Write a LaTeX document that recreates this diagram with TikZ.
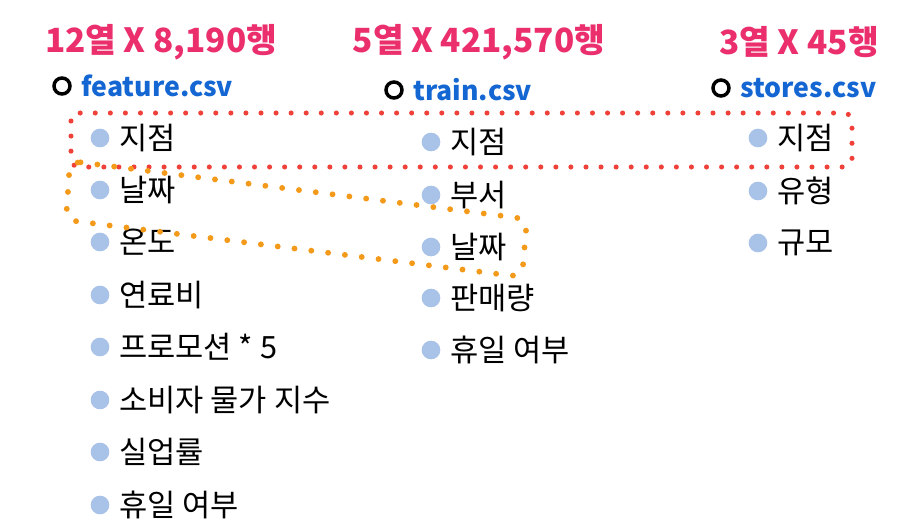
\documentclass[tikz,border=0pt]{standalone}
\usepackage{fontspec}
\setmainfont{Noto Sans CJK KR}
\definecolor{hdPink}{HTML}{EA2F6C}
\definecolor{fileBlue}{HTML}{1466D2}
\definecolor{bulBlue}{HTML}{A9C2E8}
\definecolor{keyRed}{HTML}{F0403A}
\definecolor{keyOrange}{HTML}{F39A1A}
\usetikzlibrary{positioning}

\begin{document}
\begin{tikzpicture}[x=0.75pt, y=-0.75pt, every node/.style={inner sep=0pt},
    head/.style={text=hdPink, font=\fontsize{25}{29}\selectfont\bfseries},
    file/.style={text=fileBlue, font=\fontsize{20}{24}\selectfont\bfseries},
    ring/.style={circle, draw=black, line width=2.6pt, minimum size=12pt},
    bul/.style={circle, fill=bulBlue, minimum size=14pt},
    item/.style={font=\fontsize{23}{27}\selectfont}]
        \useasboundingbox (0,0) rectangle (923,524);
        % Table sizes
        \node[head] (h1) at (161,42) {12열 X 8,190행};
        \node[head] (h2) at (479,42) {5열 X 421,570행};
        \node[head] (h3) at (799,42) {3열 X 45행};
        % File names
        \node[ring] (r1) at (62,86) {};
        \node[file, right=7pt of r1] (f1) {feature.csv};
        \node[ring] (r2) at (394,90) {};
        \node[file, right=7pt of r2] (f2) {train.csv};
        \node[ring] (r3) at (721,88) {};
        \node[file, right=7pt of r3] (f3) {stores.csv};
        % feature.csv columns
        \node[bul] (a1) at (100,138) {}; \node[item, right=7pt of a1] (ta1) {지점};
        \node[bul] (a2) at (100,190) {}; \node[item, right=7pt of a2] (ta2) {날짜};
        \node[bul] (a3) at (100,242) {}; \node[item, right=7pt of a3] (ta3) {온도};
        \node[bul] (a4) at (100,295) {}; \node[item, right=7pt of a4] (ta4) {연료비};
        \node[bul] (a5) at (100,347) {}; \node[item, right=7pt of a5] (ta5) {프로모션 * 5};
        \node[bul] (a6) at (100,400) {}; \node[item, right=7pt of a6] (ta6) {소비자 물가 지수};
        \node[bul] (a7) at (100,452) {}; \node[item, right=7pt of a7] (ta7) {실업률};
        \node[bul] (a8) at (100,505) {}; \node[item, right=7pt of a8] (ta8) {휴일 여부};
        % train.csv columns
        \node[bul] (b1) at (431,142) {}; \node[item, right=7pt of b1] (tb1) {지점};
        \node[bul] (b2) at (431,195) {}; \node[item, right=7pt of b2] (tb2) {부서};
        \node[bul] (b3) at (431,247) {}; \node[item, right=7pt of b3] (tb3) {날짜};
        \node[bul] (b4) at (431,298) {}; \node[item, right=7pt of b4] (tb4) {판매량};
        \node[bul] (b5) at (431,350) {}; \node[item, right=7pt of b5] (tb5) {휴일 여부};
        % stores.csv columns
        \node[bul] (c1) at (758,138) {}; \node[item, right=7pt of c1] (tc1) {지점};
        \node[bul] (c2) at (758,191) {}; \node[item, right=7pt of c2] (tc2) {유형};
        \node[bul] (c3) at (758,243) {}; \node[item, right=7pt of c3] (tc3) {규모};
        % Shared keys
        \draw[keyRed, line width=3.8pt, line cap=round, dash pattern=on 0pt off 11.3pt,
          rounded corners=6pt] (71,113) rectangle (852,167);
        \draw[keyOrange, line width=4.4pt, line cap=round, dash pattern=on 0pt off 12.7pt,
          rounded corners=8pt] (70,161) -- (527,219) -- (522,277) -- (66,220) -- cycle;
      \end{tikzpicture}
\end{document}
